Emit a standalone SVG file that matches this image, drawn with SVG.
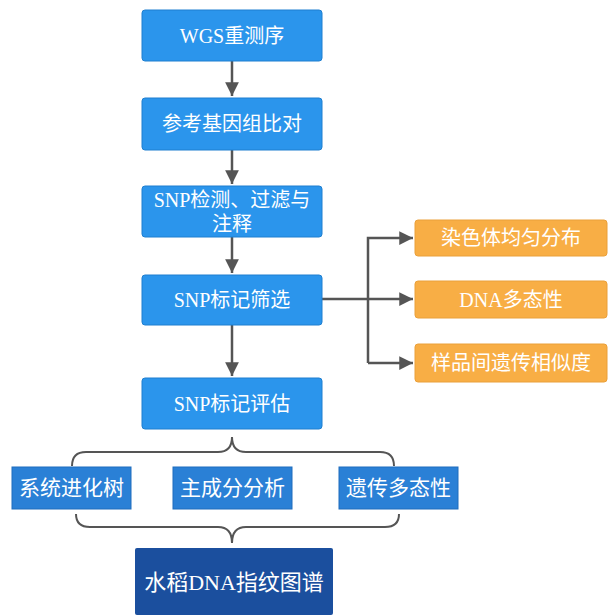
<svg xmlns="http://www.w3.org/2000/svg" width="611" height="615" viewBox="0 0 611 615">
<defs>
<marker id="ah" viewBox="0 0 10 10" refX="10" refY="5" markerWidth="5.5" markerHeight="5.5" markerUnits="strokeWidth" orient="auto">
<path d="M0,0 L10,5 L0,10 z" fill="#555"/>
</marker>
<style>
.b{fill:#2b95ec;stroke:#1f7fd0;stroke-width:1}
.o{fill:#f8ae45;stroke:#eaa03a;stroke-width:1}
.m{fill:#2a80d6;stroke:#1f6dbd;stroke-width:1}
.d{fill:#1b4f9e}
.t{font-family:"Liberation Serif","Noto Sans CJK SC",serif;fill:#fff;text-anchor:middle;dominant-baseline:central}
.c{fill:none;stroke:#555;stroke-width:2.5}
.br{fill:none;stroke:#555;stroke-width:2}
</style>
</defs>
<rect width="611" height="615" fill="#fff"/>
<g id="connectors">
<path class="c" d="M232,61 V96" marker-end="url(#ah)"/>
<path class="c" d="M232,150 V184" marker-end="url(#ah)"/>
<path class="c" d="M232,237 V273" marker-end="url(#ah)"/>
<path class="c" d="M232,325 V376" marker-end="url(#ah)"/>
<path class="c" d="M322,299 H413" marker-end="url(#ah)"/>
<path class="c" d="M368,363 V238 H413" marker-end="url(#ah)"/>
<path class="c" d="M368,363 H413" marker-end="url(#ah)"/>
<path class="br" d="M72,466 Q72,452 86,452 L218,452 Q232,452 232,437 Q232,452 246,452 L380,452 Q394,452 394,466"/>
<path class="br" d="M76,514 Q76,527 90,527 L218,527 Q232,527 232,543 Q232,527 246,527 L385,527 Q399,527 399,514"/>
</g>
<g id="n1"><rect class="b" x="142" y="10" width="180" height="51" rx="3"/><text class="t" x="232" y="36" font-size="20">WGS重测序</text></g>
<g id="n2"><rect class="b" x="142" y="98" width="180" height="52" rx="3"/><text class="t" x="232" y="124" font-size="20">参考基因组比对</text></g>
<g id="n3"><rect class="b" x="142" y="186" width="180" height="51" rx="3"/><text class="t" x="232" y="200" font-size="20">SNP检测、过滤与</text><text class="t" x="232" y="224" font-size="20">注释</text></g>
<g id="n4"><rect class="b" x="142" y="275" width="180" height="50" rx="3"/><text class="t" x="232" y="300" font-size="20">SNP标记筛选</text></g>
<g id="n5"><rect class="b" x="142" y="378" width="180" height="51" rx="3"/><text class="t" x="232" y="404" font-size="20">SNP标记评估</text></g>
<g id="o1"><rect class="o" x="415" y="220" width="192" height="36" rx="3"/><text class="t" x="511" y="238" font-size="20">染色体均匀分布</text></g>
<g id="o2"><rect class="o" x="415" y="281" width="192" height="37" rx="3"/><text class="t" x="511" y="300" font-size="20">DNA多态性</text></g>
<g id="o3"><rect class="o" x="415" y="344" width="192" height="38" rx="3"/><text class="t" x="511" y="363" font-size="20">样品间遗传相似度</text></g>
<g id="m1"><rect class="m" x="12" y="467" width="119" height="42"/><text class="t" x="71.5" y="488" font-size="21">系统进化树</text></g>
<g id="m2"><rect class="m" x="173" y="467" width="119" height="42"/><text class="t" x="232.5" y="488" font-size="21">主成分分析</text></g>
<g id="m3"><rect class="m" x="339" y="467" width="119" height="42"/><text class="t" x="398.5" y="488" font-size="21">遗传多态性</text></g>
<g id="f"><rect class="d" x="135" y="548" width="198" height="67" rx="2"/><text class="t" x="234" y="582" font-size="22">水稻DNA指纹图谱</text></g>
</svg>
